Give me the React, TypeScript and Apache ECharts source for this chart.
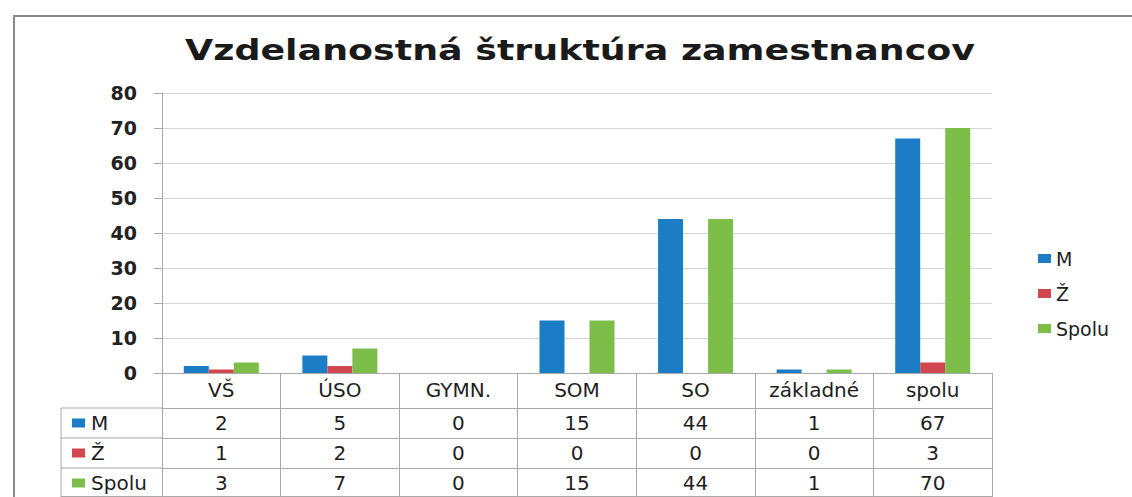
import React, { useEffect, useRef } from "react";
import * as echarts from "echarts";

const TITLE = "Vzdelanostná štruktúra zamestnancov";
const categories = ["VŠ", "ÚSO", "GYMN.", "SOM", "SO", "základné", "spolu"];
const seriesNames = ["M", "Ž", "Spolu"];
const valuesM = [2, 5, 0, 15, 44, 1, 67];
const valuesZ = [1, 2, 0, 0, 0, 0, 3];
const valuesSpolu = [3, 7, 0, 15, 44, 1, 70];
const yMin = 0;
const yMax = 80;
const yStep = 10;
const colors = ["#1C7CC6", "#D0474F", "#7DBE4B"];

const FONT = "DejaVu Sans";
const W = 1132;
const H = 497;
const GRID = { left: 162, right: 140, top: 93, bottom: 124 };
const ROW_OFFSETS = [35, 65, 95];
const TABLE_LEFT = 61;

export default function App() {
  const ref = useRef<HTMLDivElement>(null);

  useEffect(() => {
    document.body.style.margin = "0";
    if (!ref.current) return;
    const chart = echarts.init(ref.current, undefined, { renderer: "svg" });
    const seriesValues = [valuesM, valuesZ, valuesSpolu];
    const plotBottom = H - GRID.bottom;
    const plotRight = W - GRID.right;
    const lineColor = "#a9a9a9";

    const valueAxes = seriesValues.map((vals, i) => ({
      type: "category",
      data: vals.map(String),
      position: "bottom",
      offset: ROW_OFFSETS[i],
      axisLine: { show: true, lineStyle: { color: lineColor, width: 1 } },
      axisTick: { show: false },
      splitLine: { show: false },
      axisLabel: {
        interval: 0,
        margin: 15,
        verticalAlign: "middle",
        fontSize: 20,
        color: "#1e1e1e",
        fontFamily: FONT,
      },
    }));

    const graphics: any[] = [
      {
        type: "polyline",
        shape: { points: [[14, H], [14, 16], [W, 16]] },
        style: { stroke: "#8a8a8a", lineWidth: 2, fill: "none" },
        silent: true,
      },
      {
        type: "text",
        x: 580,
        y: 51,
        scaleX: 1.3,
        style: {
          text: TITLE,
          fontFamily: FONT,
          fontSize: 28,
          fontWeight: "bold",
          fill: "#1a1a1a",
          textAlign: "center",
          textVerticalAlign: "middle",
        },
        silent: true,
      },
      {
        type: "line",
        shape: { x1: TABLE_LEFT, y1: plotBottom + ROW_OFFSETS[0], x2: TABLE_LEFT, y2: H },
        style: { stroke: lineColor, lineWidth: 1 },
        silent: true,
      },
      {
        type: "line",
        shape: { x1: TABLE_LEFT, y1: H - 0.5, x2: plotRight, y2: H - 0.5 },
        style: { stroke: lineColor, lineWidth: 1 },
        silent: true,
      },
    ];
    ROW_OFFSETS.forEach((off, i) => {
      const yLine = plotBottom + off;
      const yMid = yLine + 15;
      graphics.push({
        type: "line",
        shape: { x1: TABLE_LEFT, y1: yLine, x2: GRID.left, y2: yLine },
        style: { stroke: lineColor, lineWidth: 1 },
        silent: true,
      });
      graphics.push({
        type: "rect",
        shape: { x: 72, y: yMid - 4.5, width: 13, height: 9 },
        style: { fill: colors[i] },
        silent: true,
      });
      graphics.push({
        type: "text",
        x: 91,
        y: yMid,
        style: {
          text: seriesNames[i],
          fontFamily: FONT,
          fontSize: 20,
          fill: "#1e1e1e",
          textAlign: "left",
          textVerticalAlign: "middle",
        },
        silent: true,
      });
    });

    chart.setOption({
      animation: false,
      backgroundColor: "#ffffff",
      textStyle: { fontFamily: FONT },
      color: colors,
      grid: { ...GRID, containLabel: false },
      legend: {
        data: seriesNames,
        orient: "vertical",
        left: 1033,
        top: 244,
        icon: "rect",
        itemWidth: 13,
        itemHeight: 9,
        itemGap: 16,
        textStyle: { fontSize: 19, color: "#1e1e1e", fontFamily: FONT, lineHeight: 18 },
      },
      xAxis: [
        {
          type: "category",
          data: categories,
          position: "bottom",
          axisLine: { show: true, lineStyle: { color: lineColor, width: 1 } },
          axisTick: {
            show: true,
            interval: 0,
            length: GRID.bottom,
            lineStyle: { color: lineColor, width: 1 },
          },
          splitLine: { show: false },
          axisLabel: {
            interval: 0,
            margin: 17,
            verticalAlign: "middle",
            fontSize: 20,
            color: "#1e1e1e",
            fontFamily: FONT,
          },
        },
        ...valueAxes,
      ],
      yAxis: {
        type: "value",
        min: yMin,
        max: yMax,
        interval: yStep,
        axisLine: { show: true, lineStyle: { color: lineColor, width: 1 } },
        axisTick: { show: true, length: 8, lineStyle: { color: lineColor } },
        splitLine: { show: true, lineStyle: { color: "#d6d6d6", width: 1 } },
        axisLabel: {
          margin: 25,
          fontSize: 19,
          fontWeight: "bold",
          color: "#222222",
          fontFamily: FONT,
        },
      },
      series: seriesValues.map((vals, i) => ({
        name: seriesNames[i],
        type: "bar",
        xAxisIndex: 0,
        data: vals,
        barWidth: 25,
        barGap: "0%",
        itemStyle: { color: colors[i] },
      })),
      graphic: graphics,
    });

    return () => chart.dispose();
  }, []);

  return <div ref={ref} style={{ width: W, height: H }} />;
}
